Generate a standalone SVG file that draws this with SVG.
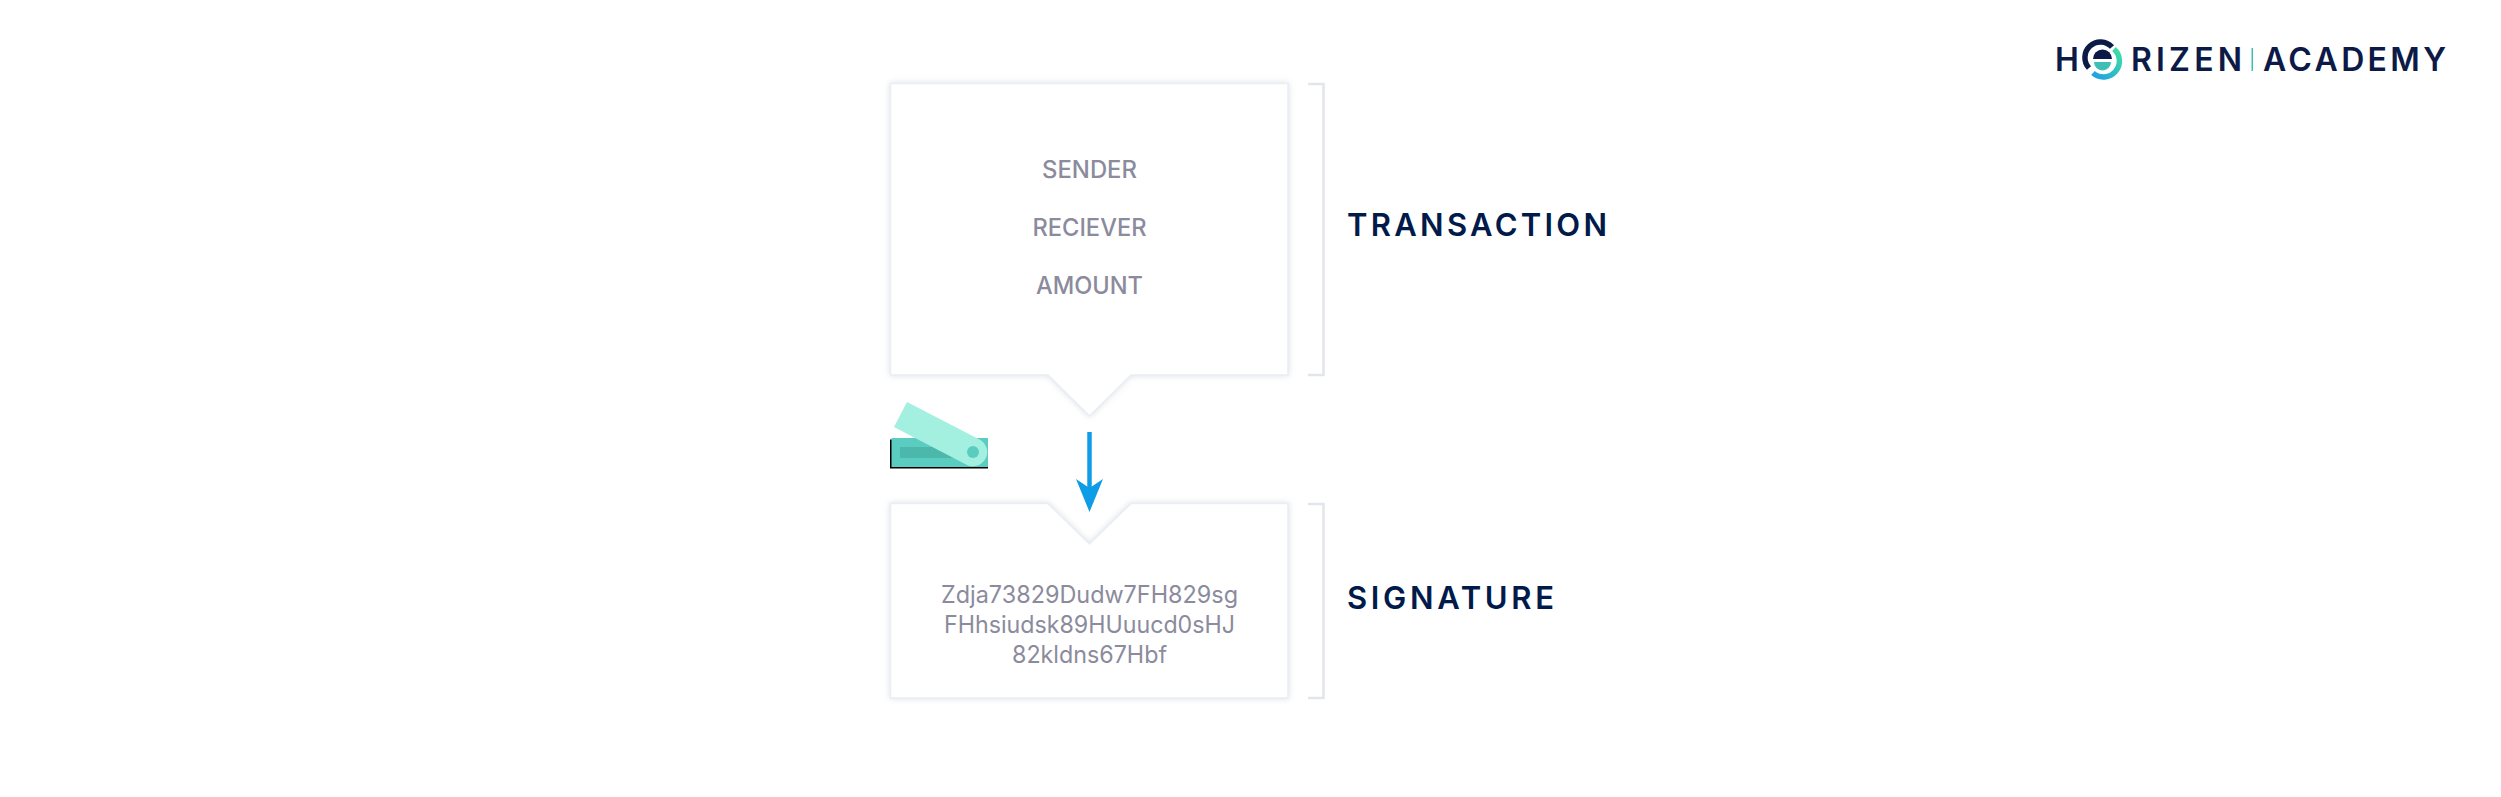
<svg xmlns="http://www.w3.org/2000/svg" width="2501" height="797" viewBox="0 0 2501 797">
<style>
.box{fill:#fff;stroke:#eaedf2;stroke-width:1.500;filter:url(#soft)}
.br{fill:none;stroke:#e2e5ec;stroke-width:2.500}
.f{font-family:"Inter","Liberation Sans",sans-serif;fill:#8b8b9d;text-anchor:middle}
.c{font-size:24px;font-weight:500}
.s{font-size:24px;font-weight:400}
.h{font-family:"Inter","Liberation Sans",sans-serif;fill:#001a4a;font-size:31px;font-weight:600}
.l{font-family:"Inter","Liberation Sans",sans-serif;fill:#0c1a47;font-size:32px;font-weight:600}
</style>
<defs>
<filter id="soft" x="-5%" y="-5%" width="110%" height="110%"><feDropShadow dx="0" dy="0" stdDeviation="3" flood-color="#d8dde6" flood-opacity="0.9"/></filter>
<marker id="arr" viewBox="0 0 33 27" refX="9" refY="13.500" markerWidth="33" markerHeight="27" markerUnits="userSpaceOnUse" orient="auto"><path d="M0 0L33 13.500L0 27L9 13.500Z" fill="#0f9ce6"/></marker>
<linearGradient id="ring" x1="0" y1="1" x2="1" y2="0"><stop offset="0" stop-color="#1e9fe6"/><stop offset="1" stop-color="#3fe0a0"/></linearGradient>
</defs>
<rect width="2501" height="797" fill="#fff"/>
<g id="transaction-box">
<path class="box" d="M890.500 83.500H1288V375H1131L1089.500 416L1048 375H890.500Z"/>
<text class="f c" x="1089.500" y="178" textLength="95" lengthAdjust="spacingAndGlyphs">SENDER</text>
<text class="f c" x="1089.500" y="236" textLength="114" lengthAdjust="spacingAndGlyphs">RECIEVER</text>
<text class="f c" x="1089.500" y="294" textLength="107" lengthAdjust="spacingAndGlyphs">AMOUNT</text>
</g>
<g id="signature-box">
<path class="box" d="M890.500 503.500H1048L1089.500 544L1131 503.500H1288V698H890.500Z"/>
<text class="f s" x="1089.500" y="603" textLength="297" lengthAdjust="spacingAndGlyphs">Zdja73829Dudw7FH829sg</text>
<text class="f s" x="1089.500" y="633" textLength="291" lengthAdjust="spacingAndGlyphs">FHhsiudsk89HUuucd0sHJ</text>
<text class="f s" x="1089.500" y="663" textLength="155" lengthAdjust="spacingAndGlyphs">82kldns67Hbf</text>
</g>
<g id="transaction-label">
<path class="br" d="M1308 84H1323.500V375H1308"/>
<text class="h" x="1347" y="236" textLength="260">TRANSACTION</text>
</g>
<g id="signature-label">
<path class="br" d="M1308 504H1323.500V698H1308"/>
<text class="h" x="1347" y="609" textLength="207">SIGNATURE</text>
</g>
<g id="usb-key">
<rect x="890" y="439.500" width="98" height="29" fill="#000"/>
<rect x="891.500" y="438" width="96.500" height="29" fill="#5accc0"/>
<rect x="900" y="447" width="60" height="11" fill="#4cb8ac"/>
<path d="M907 402L979.500 439.500A14.100 14.100 0 0 1 966.500 464.700L894 427Z" fill="#a4f0e0"/>
<circle cx="973" cy="452" r="6" fill="#5accc0"/>
</g>
<g id="connectors">
<path d="M1089.500 432V488" stroke="#0f9ce6" stroke-width="4.500" fill="none" marker-end="url(#arr)"/>
</g>
<g id="logo">
<text class="l" x="2055" y="71">H</text>
<path d="M2089 68A15.500 15.500 0 0 1 2112 47" fill="none" stroke="#0c1a47" stroke-width="5.500"/>
<path d="M2093 59A9.500 9.500 0 0 1 2112 59Z" fill="#0c1a47"/>
<path d="M2094 62H2111A8.500 8.500 0 0 1 2094 62Z" fill="#3dbfb5"/>
<path d="M2093 73A15.500 15.500 0 0 0 2114 49" fill="none" stroke="url(#ring)" stroke-width="5.500"/>
<text class="l" x="2131" y="71" textLength="111">RIZEN</text>
<rect x="2251.500" y="48" width="1.500" height="23" fill="#3dbfb5"/>
<text class="l" x="2263" y="71" textLength="183">ACADEMY</text>
</g>
</svg>
